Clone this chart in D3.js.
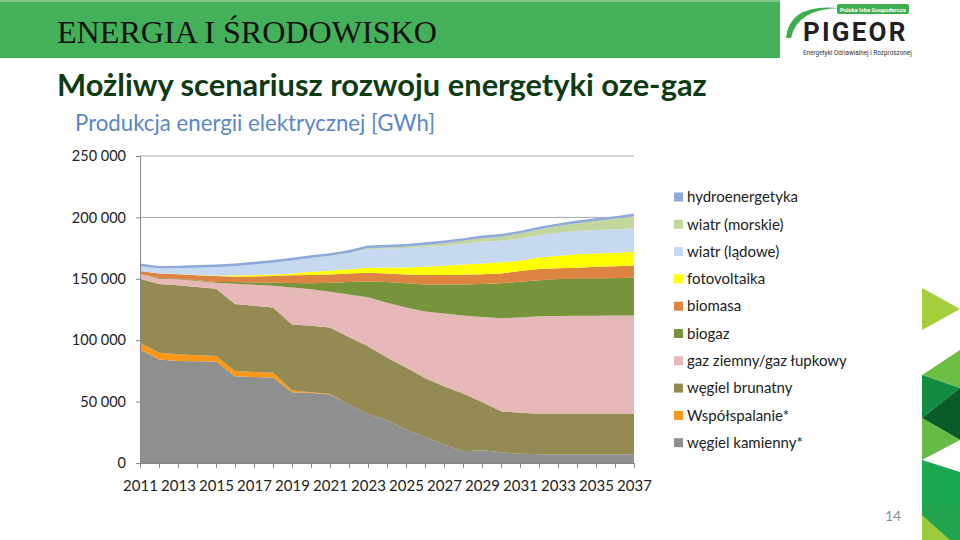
<!DOCTYPE html>
<html>
<head>
<meta charset="utf-8">
<script src="https://cdn.jsdelivr.net/npm/d3@7"></script>
<style>
body { margin: 0; background: #fff; }
svg { display: block; }
</style>
</head>
<body>
<div id="screen"></div>
<script>
var width = 960;
var height = 540;

// data (GWh per year, stacked bottom to top)
var years = [2011, 2012, 2013, 2014, 2015, 2016, 2017, 2018, 2019, 2020, 2021, 2022, 2023, 2024,
  2025, 2026, 2027, 2028, 2029, 2030, 2031, 2032, 2033, 2034, 2035, 2036, 2037];
var wegielKamienny = [92400, 84200, 83100, 82900, 82600, 70700, 70100, 69600, 57600, 57100, 55700, 47600, 40000, 34800,
  27200, 21200, 15200, 9500, 10300, 8700, 7600, 7100, 7000, 7000, 7000, 7000, 7000];
var wspolspalanie = [5400, 5500, 5400, 4800, 4600, 4300, 4100, 3800, 1600, 500, 500, 0, 0, 0,
  0, 0, 0, 0, 0, 0, 0, 0, 0, 0, 0, 0, 0];
var wegielBrunatny = [52200, 56100, 56200, 55700, 54600, 54500, 53800, 53300, 53600, 54100, 54100, 55100, 55000, 51100,
  50500, 48100, 47300, 47000, 39400, 33400, 33400, 33100, 33200, 33200, 33200, 33200, 33200];
var gazZiemny = [3800, 4500, 5000, 4800, 4900, 16500, 17200, 17600, 30200, 29800, 29100, 34600, 40000, 44500,
  48900, 54100, 59200, 63600, 69100, 75800, 77500, 79400, 79600, 79800, 79800, 79900, 79900];
var biogaz = [200, 300, 300, 600, 700, 1300, 1800, 2400, 3500, 4800, 7300, 10000, 12900, 16900,
  19700, 22000, 23700, 25300, 26900, 28400, 29100, 29300, 30000, 30000, 30300, 30400, 30700];
var biomasa = [2300, 3800, 3800, 4100, 4800, 4300, 4900, 5500, 6300, 6700, 6900, 7100, 7000, 7100,
  7300, 7600, 7600, 7900, 8100, 8100, 8700, 9000, 8700, 9000, 9500, 9800, 10100];
var fotowoltaika = [0, 0, 100, 200, 400, 1000, 1200, 1400, 1600, 2700, 2900, 3300, 4100, 4900,
  5700, 6800, 7600, 8400, 8700, 9000, 8400, 9500, 10300, 10900, 10900, 10900, 11100];
var wiatrLadowe = [4000, 3900, 4600, 5900, 6900, 7700, 8500, 9500, 10600, 11200, 12000, 13300, 15300, 15300,
  15700, 16200, 16400, 16800, 17700, 17600, 18200, 18200, 18700, 19000, 19000, 19100, 19100];
var wiatrMorskie = [0, 0, 0, 0, 0, 0, 0, 0, 0, 100, 200, 300, 600, 900,
  1200, 1600, 2000, 2400, 2800, 3300, 3900, 4600, 5400, 6300, 7400, 8500, 9800];
var hydro = [2200, 2200, 2200, 2200, 2200, 2200, 2200, 2200, 2200, 2200, 2200, 2200, 2200, 2200,
  2200, 2200, 2200, 2200, 2200, 2200, 2200, 2200, 2200, 2200, 2200, 2200, 2200];

var seriesNames = ["węgiel kamienny*", "Współspalanie*", "węgiel brunatny", "gaz ziemny/gaz łupkowy", "biogaz",
  "biomasa", "fotovoltaika", "wiatr (lądowe)", "wiatr (morskie)", "hydroenergetyka"];
var seriesValues = [wegielKamienny, wspolspalanie, wegielBrunatny, gazZiemny, biogaz,
  biomasa, fotowoltaika, wiatrLadowe, wiatrMorskie, hydro];
var seriesColors = ["#8f8f8f", "#fb9716", "#948a54", "#e6b8b7", "#77933c",
  "#de8443", "#ffff00", "#c6d9f1", "#c3d69b", "#8eaad8"];
var yTicks = [0, 50000, 100000, 150000, 200000, 250000];

var fitWidth = function (t, w) {
  var len = t.node().getComputedTextLength();
  t.attr("font-size", parseFloat(t.attr("font-size")) * w / len);
};

var svg = d3.select("#screen").append("svg").attr("width", width).attr("height", height);
svg.append("rect").attr("width", width).attr("height", height).attr("fill", "#fff");

// header band
svg.append("rect").attr("x", 0).attr("y", 0).attr("width", 780).attr("height", 58).attr("fill", "#45b05a");
svg.append("rect").attr("x", 0).attr("y", 0).attr("width", 780).attr("height", 2).attr("fill", "#7cc98a");
var head = svg.append("text").attr("x", 57).attr("y", 43)
  .attr("font-family", "Liberation Serif, serif").attr("font-size", 30).attr("fill", "#111")
  .text("ENERGIA I ŚRODOWISKO");
fitWidth(head, 380);

// logo
svg.append("path").attr("d", "M786,38 Q789,3 840,8 Q797,9 791,38 Z").attr("fill", "#3fae4f");
svg.append("rect").attr("x", 837).attr("y", 4).attr("width", 72).attr("height", 10).attr("rx", 2).attr("fill", "#3fae4f");
var pol = svg.append("text").attr("x", 840).attr("y", 11.5).attr("font-family", "Roboto, sans-serif")
  .attr("font-weight", "bold").attr("font-size", 6.5).attr("fill", "#fff").text("Polska Izba Gospodarcza");
fitWidth(pol, 66);
var pig = svg.append("text").attr("x", 803).attr("y", 41).attr("font-family", "Roboto, sans-serif")
  .attr("font-weight", "bold").attr("font-size", 26).attr("letter-spacing", 2.2).attr("fill", "#231f20")
  .text("PIGEOR");
var ener = svg.append("text").attr("x", 803).attr("y", 55).attr("font-family", "Roboto, sans-serif")
  .attr("font-size", 6).attr("fill", "#333").text("Energetyki Odnawialnej i Rozproszonej");
fitWidth(ener, 109);

// titles
var title = svg.append("text").attr("x", 57).attr("y", 96)
  .attr("font-family", "Lato, sans-serif").attr("font-weight", "bold").attr("font-size", 27)
  .attr("fill", "#0e3b14").text("Możliwy scenariusz rozwoju energetyki oze-gaz");
fitWidth(title, 650);
var sub = svg.append("text").attr("x", 75).attr("y", 131)
  .attr("font-family", "Lato, sans-serif").attr("font-size", 20)
  .attr("fill", "#5b87c5").text("Produkcja energii elektrycznej [GWh]");
fitWidth(sub, 360);

// chart
var x = d3.scaleLinear().domain([years[0], years[years.length - 1]]).range([140, 634]);
var y = d3.scaleLinear().domain([0, 250000]).range([463, 156]);

var rows = years.map(function (yr, i) {
  var row = { year: yr };
  seriesNames.forEach(function (n, k) { row[n] = seriesValues[k][i]; });
  return row;
});
var stack = d3.stack().keys(seriesNames);
var layers = stack(rows);

svg.append("g").selectAll("line").data(yTicks.slice(1)).enter().append("line")
  .attr("x1", 140).attr("x2", 634)
  .attr("y1", function (d) { return y(d); }).attr("y2", function (d) { return y(d); })
  .attr("stroke", "#a6a6a6").attr("stroke-width", 1);

var area = d3.area()
  .x(function (d) { return x(d.data.year); })
  .y0(function (d) { return y(d[0]); })
  .y1(function (d) { return y(d[1]); });

svg.append("g").selectAll("path").data(layers).enter().append("path")
  .attr("d", area)
  .attr("fill", function (d, i) { return seriesColors[i]; });

var fmt = function (d) { return d3.format(",")(d).replace(/,/g, " "); };
var yAxis = svg.append("g").attr("transform", "translate(140,0)")
  .call(d3.axisLeft(y).tickValues(yTicks).tickSize(4).tickPadding(10).tickFormat(fmt));
var xAxis = svg.append("g").attr("transform", "translate(0,463)")
  .call(d3.axisBottom(x).tickValues(years).tickSize(5).tickPadding(12)
    .tickFormat(function (d) { return (d - 2011) % 2 === 0 ? d : ""; }));
[yAxis, xAxis].forEach(function (g) {
  g.selectAll("path, line").attr("stroke", "#868686");
  g.selectAll("text").attr("font-family", "Lato, sans-serif").attr("fill", "#222");
});
yAxis.selectAll("text").attr("font-size", 14.5);
xAxis.selectAll("text").attr("font-size", 15);

// legend (top entry is last series)
var legend = svg.append("g").selectAll("g").data(seriesNames.slice().reverse()).enter().append("g")
  .attr("transform", function (d, i) { return "translate(674," + (197 + i * 27.3) + ")"; });
legend.append("rect").attr("x", 0).attr("y", -4.5).attr("width", 9).attr("height", 9)
  .attr("fill", function (d) { return seriesColors[seriesNames.indexOf(d)]; });
legend.append("text").attr("x", 13).attr("dy", "0.35em")
  .attr("font-family", "Lato, sans-serif").attr("font-size", 15).attr("fill", "#222")
  .text(function (d) { return d; });

// side decoration
var deco = [
  [[[922, 288], [922, 330], [960, 309]], "#a4cf3a"],
  [[[922, 375], [960, 350], [960, 388]], "#6dbe45"],
  [[[922, 375], [960, 388], [922, 418]], "#128b42"],
  [[[960, 388], [922, 418], [960, 440]], "#0b5b28"],
  [[[922, 418], [960, 440], [922, 460]], "#66bb47"],
  [[[922, 460], [960, 472], [960, 505], [922, 505]], "#1aa653"],
  [[[922, 505], [960, 505], [960, 540], [922, 540]], "#22a44f"],
  [[[922, 515], [950, 540], [922, 540]], "#9ccc3c"]
];
svg.append("g").selectAll("polygon").data(deco).enter().append("polygon")
  .attr("points", function (d) { return d[0].join(" "); })
  .attr("fill", function (d) { return d[1]; });

svg.append("text").attr("x", 885).attr("y", 521).attr("font-family", "Lato, sans-serif")
  .attr("font-size", 14).attr("fill", "#8c8c8c").text("14");
</script>
</body>
</html>
